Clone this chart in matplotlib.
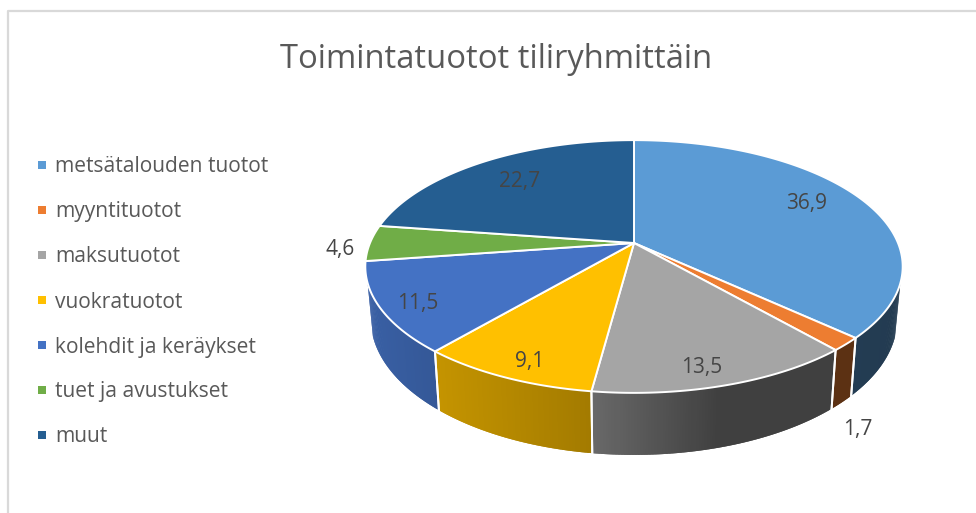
from matplotlib import pyplot as plt
from matplotlib.patches import Polygon
from matplotlib.colors import to_rgb
import numpy as np

title = 'Toimintatuotot tiliryhmittäin'
categories = ['metsätalouden tuotot', 'myyntituotot', 'maksutuotot', 'vuokratuotot',
              'kolehdit ja keräykset', 'tuet ja avustukset', 'muut']
values = [36.9, 1.7, 13.5, 9.1, 11.5, 4.6, 22.7]
value_labels = ['36,9', '1,7', '13,5', '9,1', '11,5', '4,6', '22,7']
colors = ['#5B9BD5', '#ED7D31', '#A5A5A5', '#FFC000', '#4472C4', '#70AD47', '#255E91']

# where the data labels sit, in pixels
label_xy = [(807, 203), (858, 429), (702, 367), (530, 361), (418, 304), (340, 250), (520, 182)]

# pie geometry, fitted by hand to the picture (fake 3d perspective)
cx, cy = 634, 243
rx, ry = 264, 122
persp = 0.186
depth = 50.5
shrink = 0.98
wall_from, wall_to = 108, 252  # wall is hidden outside these angles

# side wall gets darker going to the right
shade_x = [365, 438, 592, 720, 850, 905]
shade_v = [0.84, 0.77, 0.64, 0.39, 0.39, 0.38]

text_color = '#595959'
label_color = '#454545'
plt.rcParams['font.family'] = ['Open Sans', 'DejaVu Sans']


def top_point(angle):
    # angle in degrees, clockwise from 12 o'clock
    a = np.radians(angle)
    X, Y = np.sin(a), np.cos(a)
    w = 1 + persp * Y
    return cx + rx * X / w, cy - ry * Y / w


def bottom_point(angle):
    a = np.radians(angle)
    Y = np.cos(a)
    x, y = top_point(angle)
    return cx + (x - cx) * shrink, y + depth / (1 + persp * Y)


fig = plt.figure(figsize=(9.76, 5.13), dpi=100)
ax = fig.add_axes([0, 0, 1, 1])
ax.set_xlim(0, 976)
ax.set_ylim(513, 0)
ax.axis('off')

# chart frame, only left and top are in the screenshot
ax.plot([7.5, 7.5, 976], [513, 11, 11], color='#D9D9D9', lw=1.6, zorder=1)

edges = np.concatenate([[0], np.cumsum(values)]) * 3.6

# side walls first, only the front part is visible
for i in range(len(values)):
    start, end = edges[i], edges[i + 1]
    lo, hi = max(start, wall_from), min(end, wall_to)
    if hi <= lo:
        continue
    steps = np.linspace(lo, hi, max(int(hi - lo) * 2, 3))
    base = np.array(to_rgb(colors[i]))
    # each strip overlaps the next one so no seams show
    for j in range(len(steps) - 1):
        a0, a1 = steps[j], steps[min(j + 2, len(steps) - 1)]
        xm = top_point(steps[j])[0]
        c = base * np.interp(xm, shade_x, shade_v)
        ax.add_patch(Polygon([top_point(a0), top_point(a1), bottom_point(a1), bottom_point(a0)],
                             closed=True, facecolor=c, edgecolor='none', zorder=2))
    # white separators between the walls
    for a in (start, end):
        if wall_from <= a <= wall_to:
            p0, p1 = top_point(a), bottom_point(a)
            ax.plot([p0[0], p1[0]], [p0[1], p1[1]], color='white', lw=1.4, zorder=3)

# top surface
for i in range(len(values)):
    arc = np.linspace(edges[i], edges[i + 1], 120)
    pts = [(cx, cy)] + [top_point(a) for a in arc]
    ax.add_patch(Polygon(pts, closed=True, facecolor=colors[i], edgecolor='white',
                         lw=1.4, joinstyle='round', zorder=4))

for txt, (x, y) in zip(value_labels, label_xy):
    ax.text(x, y, txt, fontsize=15, color=label_color, ha='center', va='center', zorder=6)

ax.text(496.5, 59, title, fontsize=23.6, color=text_color, ha='center', va='center')

leg_y = 165
for name, col in zip(categories, colors):
    ax.scatter([42], [leg_y], s=36, marker='s', color=col, linewidths=0, zorder=5)
    ax.text(55, leg_y + 2, name, fontsize=15.15, color=text_color, ha='left', va='center')
    leg_y += 45

plt.savefig('out.png', dpi=100)
